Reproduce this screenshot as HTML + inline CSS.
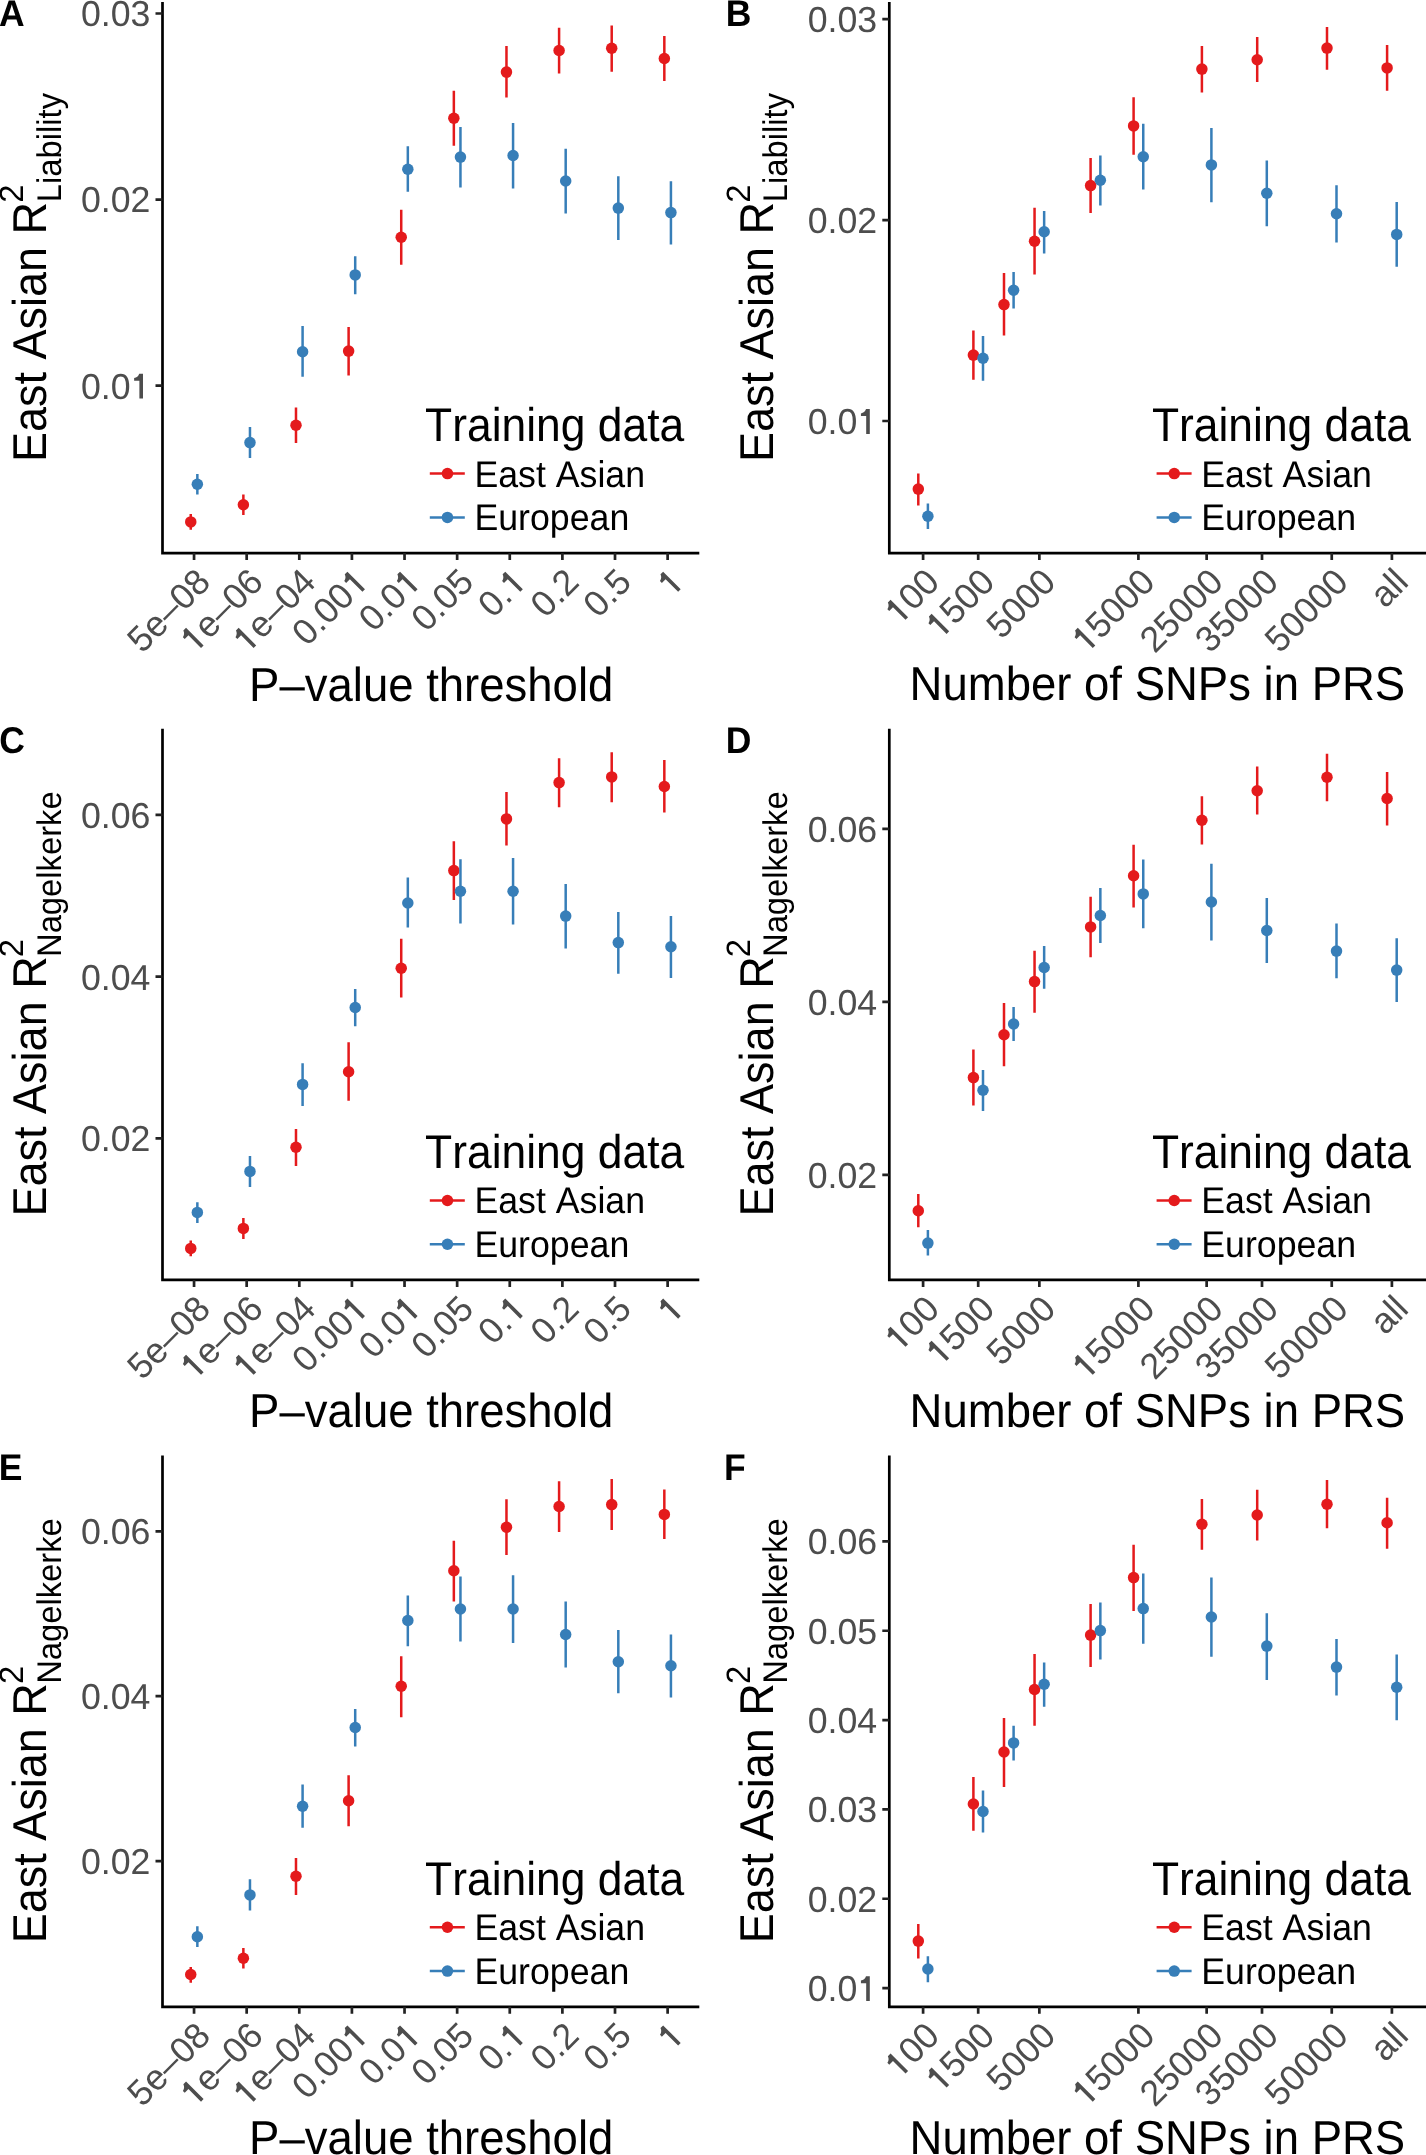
<!DOCTYPE html>
<html><head><meta charset="utf-8"><title>PRS figure</title>
<style>
html,body{margin:0;padding:0;background:#fff;}
body{width:1426px;height:2155px;overflow:hidden;}
svg{display:block;font-family:"Liberation Sans", sans-serif;will-change:transform;text-rendering:geometricPrecision;font-kerning:none;}
</style></head>
<body>
<svg width="1426" height="2155" viewBox="0 0 1426 2155">
<rect width="1426" height="2155" fill="#fff"/>
<g transform="translate(0 0)">
<text transform="translate(-0.88 25.8) scale(1 1.045)" font-size="35.5" fill="#000" font-weight="bold">A</text>
<text transform="translate(46 461.99) rotate(-90) scale(1 1.055)" font-size="45" fill="#000">East Asian R</text>
<text transform="translate(22.9 202.75) rotate(-90) scale(1 1.03)" font-size="32.75" fill="#000">2</text>
<text transform="translate(60.5 202.19) rotate(-90) scale(1 1.045)" font-size="32.75" fill="#000">Liability</text>
<path d="M162.5 1.9V554.45M161.15 553.1H699.3" stroke="#000" stroke-width="2.7" fill="none"/>
<g transform="translate(150.4 26.4) scale(1 1.01)" fill="#4D4D4D"><text text-anchor="end" font-size="35.7">0.03</text></g>
<g transform="translate(150.4 212.45) scale(1 1.01)" fill="#4D4D4D"><text text-anchor="end" font-size="35.7">0.02</text></g>
<g transform="translate(150.4 398.5) scale(1 1.01)" fill="#4D4D4D"><text text-anchor="end" font-size="35.7">0.0 </text><path d="M-7.41 0L-7.41 -24.56L-11.19 -24.56Q-12.54 -20.88 -16.26 -20.21L-16.26 -17.6L-11.01 -17.6L-11.01 0Z"/></g>
<g transform="translate(212.35 584) rotate(-45) scale(1 1.01)" fill="#4D4D4D"><text text-anchor="end" font-size="35.7">5e–08</text></g>
<g transform="translate(264.97 584) rotate(-45) scale(1 1.01)" fill="#4D4D4D"><text text-anchor="end" font-size="35.7"> e–06</text><path d="M-86.82 0L-86.82 -24.56L-90.61 -24.56Q-91.95 -20.88 -95.67 -20.21L-95.67 -17.6L-90.43 -17.6L-90.43 0Z"/></g>
<g transform="translate(317.59 584) rotate(-45) scale(1 1.01)" fill="#4D4D4D"><text text-anchor="end" font-size="35.7"> e–04</text><path d="M-86.82 0L-86.82 -24.56L-90.61 -24.56Q-91.95 -20.88 -95.67 -20.21L-95.67 -17.6L-90.43 -17.6L-90.43 0Z"/></g>
<g transform="translate(370.21 584) rotate(-45) scale(1 1.01)" fill="#4D4D4D"><text text-anchor="end" font-size="35.7">0.00 </text><path d="M-7.41 0L-7.41 -24.56L-11.19 -24.56Q-12.54 -20.88 -16.26 -20.21L-16.26 -17.6L-11.01 -17.6L-11.01 0Z"/></g>
<g transform="translate(422.83 584) rotate(-45) scale(1 1.01)" fill="#4D4D4D"><text text-anchor="end" font-size="35.7">0.0 </text><path d="M-7.41 0L-7.41 -24.56L-11.19 -24.56Q-12.54 -20.88 -16.26 -20.21L-16.26 -17.6L-11.01 -17.6L-11.01 0Z"/></g>
<g transform="translate(475.45 584) rotate(-45) scale(1 1.01)" fill="#4D4D4D"><text text-anchor="end" font-size="35.7">0.05</text></g>
<g transform="translate(528.07 584) rotate(-45) scale(1 1.01)" fill="#4D4D4D"><text text-anchor="end" font-size="35.7">0. </text><path d="M-7.41 0L-7.41 -24.56L-11.19 -24.56Q-12.54 -20.88 -16.26 -20.21L-16.26 -17.6L-11.01 -17.6L-11.01 0Z"/></g>
<g transform="translate(580.69 584) rotate(-45) scale(1 1.01)" fill="#4D4D4D"><text text-anchor="end" font-size="35.7">0.2</text></g>
<g transform="translate(633.31 584) rotate(-45) scale(1 1.01)" fill="#4D4D4D"><text text-anchor="end" font-size="35.7">0.5</text></g>
<g transform="translate(685.93 584) rotate(-45) scale(1 1.01)" fill="#4D4D4D"><text text-anchor="end" font-size="35.7"> </text><path d="M-7.41 0L-7.41 -24.56L-11.19 -24.56Q-12.54 -20.88 -16.26 -20.21L-16.26 -17.6L-11.01 -17.6L-11.01 0Z"/></g>
<path d="M155.5 13.5H162.5M155.5 199.55H162.5M155.5 385.6H162.5M194.05 553.1V560.1M246.67 553.1V560.1M299.29 553.1V560.1M351.91 553.1V560.1M404.53 553.1V560.1M457.15 553.1V560.1M509.77 553.1V560.1M562.39 553.1V560.1M615.01 553.1V560.1M667.63 553.1V560.1" stroke="#222" stroke-width="2.7" fill="none"/>
<text transform="translate(249.07 700.5) scale(1 1.05)" font-size="45.5" fill="#000">P–value threshold</text>
<text transform="translate(425.1 441.3) scale(1 1.065)" font-size="44.4" fill="#000">Training data</text>
<path d="M429.8 473.6H464.8" stroke="#E41A1C" stroke-width="2.5"/>
<circle cx="447.45" cy="473.6" r="5.75" fill="#E41A1C"/>
<text transform="translate(474.47 486.5) scale(1 1.04)" font-size="35.7" fill="#000">East Asian</text>
<path d="M429.8 517.4H464.8" stroke="#377EB8" stroke-width="2.5"/>
<circle cx="447.45" cy="517.4" r="5.75" fill="#377EB8"/>
<text transform="translate(474.47 530.3) scale(1 1.04)" font-size="35.7" fill="#000">European</text>
<g fill="#E41A1C"><path d="M190.75 514V529.8M243.37 494.6V515M295.99 407.6V443M348.61 327.1V375.6M401.23 209.7V264.7M453.85 90.7V145.7M506.47 46.1V97.6M559.09 27.7V73.6M611.71 25.5V71.7M664.33 36.1V80.9" stroke="#E41A1C" stroke-width="2.5"/><circle cx="190.75" cy="521.9" r="5.75"/><circle cx="243.37" cy="504.8" r="5.75"/><circle cx="295.99" cy="425.3" r="5.75"/><circle cx="348.61" cy="351.1" r="5.75"/><circle cx="401.23" cy="237.2" r="5.75"/><circle cx="453.85" cy="118.2" r="5.75"/><circle cx="506.47" cy="72.1" r="5.75"/><circle cx="559.09" cy="50.5" r="5.75"/><circle cx="611.71" cy="48.3" r="5.75"/><circle cx="664.33" cy="58.5" r="5.75"/></g>
<g fill="#377EB8"><path d="M197.35 474V494.4M249.97 426.9V458.1M302.59 326.1V376.8M355.21 256.2V294.3M407.83 146.3V191.8M460.45 127V187.5M513.07 122.9V188.5M565.69 148.8V213.6M618.31 176.3V239.9M670.93 181.2V244.5" stroke="#377EB8" stroke-width="2.5"/><circle cx="197.35" cy="484.2" r="5.75"/><circle cx="249.97" cy="442.6" r="5.75"/><circle cx="302.59" cy="351.7" r="5.75"/><circle cx="355.21" cy="274.9" r="5.75"/><circle cx="407.83" cy="169.3" r="5.75"/><circle cx="460.45" cy="157.1" r="5.75"/><circle cx="513.07" cy="155.5" r="5.75"/><circle cx="565.69" cy="181" r="5.75"/><circle cx="618.31" cy="208.1" r="5.75"/><circle cx="670.93" cy="212.6" r="5.75"/></g>
</g>
<g transform="translate(726.8 0)">
<text transform="translate(-1.07 25.8) scale(1 1.045)" font-size="35.5" fill="#000" font-weight="bold">B</text>
<text transform="translate(46 461.99) rotate(-90) scale(1 1.055)" font-size="45" fill="#000">East Asian R</text>
<text transform="translate(22.9 202.75) rotate(-90) scale(1 1.03)" font-size="32.75" fill="#000">2</text>
<text transform="translate(60.5 202.19) rotate(-90) scale(1 1.045)" font-size="32.75" fill="#000">Liability</text>
<path d="M162.5 1.9V554.45M161.15 553.1H699.3" stroke="#000" stroke-width="2.7" fill="none"/>
<g transform="translate(150.4 32.1) scale(1 1.01)" fill="#4D4D4D"><text text-anchor="end" font-size="35.7">0.03</text></g>
<g transform="translate(150.4 233) scale(1 1.01)" fill="#4D4D4D"><text text-anchor="end" font-size="35.7">0.02</text></g>
<g transform="translate(150.4 433.9) scale(1 1.01)" fill="#4D4D4D"><text text-anchor="end" font-size="35.7">0.0 </text><path d="M-7.41 0L-7.41 -24.56L-11.19 -24.56Q-12.54 -20.88 -16.26 -20.21L-16.26 -17.6L-11.01 -17.6L-11.01 0Z"/></g>
<g transform="translate(214.6 584) rotate(-45) scale(1 1.01)" fill="#4D4D4D"><text text-anchor="end" font-size="35.7"> 00</text><path d="M-47.12 0L-47.12 -24.56L-50.9 -24.56Q-52.25 -20.88 -55.97 -20.21L-55.97 -17.6L-50.72 -17.6L-50.72 0Z"/></g>
<g transform="translate(269.7 584) rotate(-45) scale(1 1.01)" fill="#4D4D4D"><text text-anchor="end" font-size="35.7"> 500</text><path d="M-66.97 0L-66.97 -24.56L-70.75 -24.56Q-72.1 -20.88 -75.82 -20.21L-75.82 -17.6L-70.58 -17.6L-70.58 0Z"/></g>
<g transform="translate(330.85 584) rotate(-45) scale(1 1.01)" fill="#4D4D4D"><text text-anchor="end" font-size="35.7">5000</text></g>
<g transform="translate(429.9 584) rotate(-45) scale(1 1.01)" fill="#4D4D4D"><text text-anchor="end" font-size="35.7"> 5000</text><path d="M-86.82 0L-86.82 -24.56L-90.61 -24.56Q-91.95 -20.88 -95.67 -20.21L-95.67 -17.6L-90.43 -17.6L-90.43 0Z"/></g>
<g transform="translate(498.15 584) rotate(-45) scale(1 1.01)" fill="#4D4D4D"><text text-anchor="end" font-size="35.7">25000</text></g>
<g transform="translate(553.5 584) rotate(-45) scale(1 1.01)" fill="#4D4D4D"><text text-anchor="end" font-size="35.7">35000</text></g>
<g transform="translate(623.25 584) rotate(-45) scale(1 1.01)" fill="#4D4D4D"><text text-anchor="end" font-size="35.7">50000</text></g>
<g transform="translate(683.4 584) rotate(-45) scale(1 1.01)" fill="#4D4D4D"><text text-anchor="end" font-size="35.7">all</text></g>
<path d="M155.5 19.2H162.5M155.5 220.1H162.5M155.5 421H162.5M196.3 553.1V560.1M251.4 553.1V560.1M312.55 553.1V560.1M411.6 553.1V560.1M479.85 553.1V560.1M535.2 553.1V560.1M604.95 553.1V560.1M665.1 553.1V560.1" stroke="#222" stroke-width="2.7" fill="none"/>
<text transform="translate(182.77 700.3) scale(1 1.05)" font-size="45.5" fill="#000">Number of SNPs in PRS</text>
<text transform="translate(425.1 441.3) scale(1 1.065)" font-size="44.4" fill="#000">Training data</text>
<path d="M429.8 473.6H464.8" stroke="#E41A1C" stroke-width="2.5"/>
<circle cx="447.45" cy="473.6" r="5.75" fill="#E41A1C"/>
<text transform="translate(474.47 486.5) scale(1 1.04)" font-size="35.7" fill="#000">East Asian</text>
<path d="M429.8 517.4H464.8" stroke="#377EB8" stroke-width="2.5"/>
<circle cx="447.45" cy="517.4" r="5.75" fill="#377EB8"/>
<text transform="translate(474.47 530.3) scale(1 1.04)" font-size="35.7" fill="#000">European</text>
<g fill="#E41A1C"><path d="M191.5 473.4V505.4M246.6 330.5V379.8M277.2 273V335.6M307.75 207.8V274.6M363.8 158.1V213.1M406.8 97.3V154.8M475.1 46.1V92.6M530.4 37.1V81.9M600.2 26.9V69.7M660.3 45.1V90.7" stroke="#E41A1C" stroke-width="2.5"/><circle cx="191.5" cy="489.1" r="5.75"/><circle cx="246.6" cy="355.1" r="5.75"/><circle cx="277.2" cy="304.6" r="5.75"/><circle cx="307.75" cy="241.2" r="5.75"/><circle cx="363.8" cy="185.6" r="5.75"/><circle cx="406.8" cy="125.9" r="5.75"/><circle cx="475.1" cy="69.1" r="5.75"/><circle cx="530.4" cy="59.7" r="5.75"/><circle cx="600.2" cy="48.1" r="5.75"/><circle cx="660.3" cy="67.9" r="5.75"/></g>
<g fill="#377EB8"><path d="M201.1 503.4V529M256.2 336V380.8M286.8 272V308.5M317.35 211.1V253.4M373.55 155.4V205.5M416.45 123.8V189.5M484.6 128V202.2M540 160.6V226.2M609.7 185.3V242.5M669.9 202V266.8" stroke="#377EB8" stroke-width="2.5"/><circle cx="201.1" cy="516.2" r="5.75"/><circle cx="256.2" cy="358.3" r="5.75"/><circle cx="286.8" cy="290.3" r="5.75"/><circle cx="317.35" cy="231.8" r="5.75"/><circle cx="373.55" cy="180.3" r="5.75"/><circle cx="416.45" cy="156.8" r="5.75"/><circle cx="484.6" cy="164.9" r="5.75"/><circle cx="540" cy="193.2" r="5.75"/><circle cx="609.7" cy="213.8" r="5.75"/><circle cx="669.9" cy="234.4" r="5.75"/></g>
</g>
<g transform="translate(0 726.85)">
<text transform="translate(-0.76 25.8) scale(1 1.045)" font-size="35.5" fill="#000" font-weight="bold">C</text>
<text transform="translate(46 489.59) rotate(-90) scale(1 1.055)" font-size="45" fill="#000">East Asian R</text>
<text transform="translate(22.9 230.3) rotate(-90) scale(1 1.03)" font-size="32.75" fill="#000">2</text>
<text transform="translate(60.5 230.14) rotate(-90) scale(1 1.045)" font-size="32.75" fill="#000">Nagelkerke</text>
<path d="M162.5 1.9V554.45M161.15 553.1H699.3" stroke="#000" stroke-width="2.7" fill="none"/>
<g transform="translate(150.4 100.9) scale(1 1.01)" fill="#4D4D4D"><text text-anchor="end" font-size="35.7">0.06</text></g>
<g transform="translate(150.4 262.7) scale(1 1.01)" fill="#4D4D4D"><text text-anchor="end" font-size="35.7">0.04</text></g>
<g transform="translate(150.4 424.5) scale(1 1.01)" fill="#4D4D4D"><text text-anchor="end" font-size="35.7">0.02</text></g>
<g transform="translate(212.35 584) rotate(-45) scale(1 1.01)" fill="#4D4D4D"><text text-anchor="end" font-size="35.7">5e–08</text></g>
<g transform="translate(264.97 584) rotate(-45) scale(1 1.01)" fill="#4D4D4D"><text text-anchor="end" font-size="35.7"> e–06</text><path d="M-86.82 0L-86.82 -24.56L-90.61 -24.56Q-91.95 -20.88 -95.67 -20.21L-95.67 -17.6L-90.43 -17.6L-90.43 0Z"/></g>
<g transform="translate(317.59 584) rotate(-45) scale(1 1.01)" fill="#4D4D4D"><text text-anchor="end" font-size="35.7"> e–04</text><path d="M-86.82 0L-86.82 -24.56L-90.61 -24.56Q-91.95 -20.88 -95.67 -20.21L-95.67 -17.6L-90.43 -17.6L-90.43 0Z"/></g>
<g transform="translate(370.21 584) rotate(-45) scale(1 1.01)" fill="#4D4D4D"><text text-anchor="end" font-size="35.7">0.00 </text><path d="M-7.41 0L-7.41 -24.56L-11.19 -24.56Q-12.54 -20.88 -16.26 -20.21L-16.26 -17.6L-11.01 -17.6L-11.01 0Z"/></g>
<g transform="translate(422.83 584) rotate(-45) scale(1 1.01)" fill="#4D4D4D"><text text-anchor="end" font-size="35.7">0.0 </text><path d="M-7.41 0L-7.41 -24.56L-11.19 -24.56Q-12.54 -20.88 -16.26 -20.21L-16.26 -17.6L-11.01 -17.6L-11.01 0Z"/></g>
<g transform="translate(475.45 584) rotate(-45) scale(1 1.01)" fill="#4D4D4D"><text text-anchor="end" font-size="35.7">0.05</text></g>
<g transform="translate(528.07 584) rotate(-45) scale(1 1.01)" fill="#4D4D4D"><text text-anchor="end" font-size="35.7">0. </text><path d="M-7.41 0L-7.41 -24.56L-11.19 -24.56Q-12.54 -20.88 -16.26 -20.21L-16.26 -17.6L-11.01 -17.6L-11.01 0Z"/></g>
<g transform="translate(580.69 584) rotate(-45) scale(1 1.01)" fill="#4D4D4D"><text text-anchor="end" font-size="35.7">0.2</text></g>
<g transform="translate(633.31 584) rotate(-45) scale(1 1.01)" fill="#4D4D4D"><text text-anchor="end" font-size="35.7">0.5</text></g>
<g transform="translate(685.93 584) rotate(-45) scale(1 1.01)" fill="#4D4D4D"><text text-anchor="end" font-size="35.7"> </text><path d="M-7.41 0L-7.41 -24.56L-11.19 -24.56Q-12.54 -20.88 -16.26 -20.21L-16.26 -17.6L-11.01 -17.6L-11.01 0Z"/></g>
<path d="M155.5 88H162.5M155.5 249.8H162.5M155.5 411.6H162.5M194.05 553.1V560.1M246.67 553.1V560.1M299.29 553.1V560.1M351.91 553.1V560.1M404.53 553.1V560.1M457.15 553.1V560.1M509.77 553.1V560.1M562.39 553.1V560.1M615.01 553.1V560.1M667.63 553.1V560.1" stroke="#222" stroke-width="2.7" fill="none"/>
<text transform="translate(249.07 700.5) scale(1 1.05)" font-size="45.5" fill="#000">P–value threshold</text>
<text transform="translate(425.1 441.3) scale(1 1.065)" font-size="44.4" fill="#000">Training data</text>
<path d="M429.8 473.6H464.8" stroke="#E41A1C" stroke-width="2.5"/>
<circle cx="447.45" cy="473.6" r="5.75" fill="#E41A1C"/>
<text transform="translate(474.47 486.5) scale(1 1.04)" font-size="35.7" fill="#000">East Asian</text>
<path d="M429.8 517.4H464.8" stroke="#377EB8" stroke-width="2.5"/>
<circle cx="447.45" cy="517.4" r="5.75" fill="#377EB8"/>
<text transform="translate(474.47 530.3) scale(1 1.04)" font-size="35.7" fill="#000">European</text>
<g fill="#E41A1C"><path d="M190.75 513.65V529.35M243.37 491.05V512.15M295.99 402.15V439.05M348.61 315.35V373.85M401.23 211.95V270.75M453.85 114.45V173.15M506.47 65.15V118.75M559.09 31.45V80.35M611.71 25.35V75.35M664.33 33.15V85.75" stroke="#E41A1C" stroke-width="2.5"/><circle cx="190.75" cy="521.55" r="5.75"/><circle cx="243.37" cy="501.55" r="5.75"/><circle cx="295.99" cy="420.45" r="5.75"/><circle cx="348.61" cy="344.85" r="5.75"/><circle cx="401.23" cy="241.35" r="5.75"/><circle cx="453.85" cy="143.75" r="5.75"/><circle cx="506.47" cy="92.05" r="5.75"/><circle cx="559.09" cy="55.75" r="5.75"/><circle cx="611.71" cy="50.05" r="5.75"/><circle cx="664.33" cy="59.65" r="5.75"/></g>
<g fill="#377EB8"><path d="M197.35 475.35V496.05M249.97 429.25V460.05M302.59 336.35V379.15M355.21 262.05V299.35M407.83 150.65V200.65M460.45 132.35V196.75M513.07 131.15V197.75M565.69 157.05V221.65M618.31 185.15V246.85M670.93 189.25V251.15" stroke="#377EB8" stroke-width="2.5"/><circle cx="197.35" cy="485.55" r="5.75"/><circle cx="249.97" cy="444.55" r="5.75"/><circle cx="302.59" cy="357.55" r="5.75"/><circle cx="355.21" cy="280.65" r="5.75"/><circle cx="407.83" cy="176.15" r="5.75"/><circle cx="460.45" cy="164.35" r="5.75"/><circle cx="513.07" cy="164.35" r="5.75"/><circle cx="565.69" cy="189.25" r="5.75"/><circle cx="618.31" cy="215.75" r="5.75"/><circle cx="670.93" cy="219.95" r="5.75"/></g>
</g>
<g transform="translate(726.8 726.85)">
<text transform="translate(-1.17 25.8) scale(1 1.045)" font-size="35.5" fill="#000" font-weight="bold">D</text>
<text transform="translate(46 489.59) rotate(-90) scale(1 1.055)" font-size="45" fill="#000">East Asian R</text>
<text transform="translate(22.9 230.3) rotate(-90) scale(1 1.03)" font-size="32.75" fill="#000">2</text>
<text transform="translate(60.5 230.14) rotate(-90) scale(1 1.045)" font-size="32.75" fill="#000">Nagelkerke</text>
<path d="M162.5 1.9V554.45M161.15 553.1H699.3" stroke="#000" stroke-width="2.7" fill="none"/>
<g transform="translate(150.4 114.85) scale(1 1.01)" fill="#4D4D4D"><text text-anchor="end" font-size="35.7">0.06</text></g>
<g transform="translate(150.4 287.85) scale(1 1.01)" fill="#4D4D4D"><text text-anchor="end" font-size="35.7">0.04</text></g>
<g transform="translate(150.4 460.85) scale(1 1.01)" fill="#4D4D4D"><text text-anchor="end" font-size="35.7">0.02</text></g>
<g transform="translate(214.6 584) rotate(-45) scale(1 1.01)" fill="#4D4D4D"><text text-anchor="end" font-size="35.7"> 00</text><path d="M-47.12 0L-47.12 -24.56L-50.9 -24.56Q-52.25 -20.88 -55.97 -20.21L-55.97 -17.6L-50.72 -17.6L-50.72 0Z"/></g>
<g transform="translate(269.7 584) rotate(-45) scale(1 1.01)" fill="#4D4D4D"><text text-anchor="end" font-size="35.7"> 500</text><path d="M-66.97 0L-66.97 -24.56L-70.75 -24.56Q-72.1 -20.88 -75.82 -20.21L-75.82 -17.6L-70.58 -17.6L-70.58 0Z"/></g>
<g transform="translate(330.85 584) rotate(-45) scale(1 1.01)" fill="#4D4D4D"><text text-anchor="end" font-size="35.7">5000</text></g>
<g transform="translate(429.9 584) rotate(-45) scale(1 1.01)" fill="#4D4D4D"><text text-anchor="end" font-size="35.7"> 5000</text><path d="M-86.82 0L-86.82 -24.56L-90.61 -24.56Q-91.95 -20.88 -95.67 -20.21L-95.67 -17.6L-90.43 -17.6L-90.43 0Z"/></g>
<g transform="translate(498.15 584) rotate(-45) scale(1 1.01)" fill="#4D4D4D"><text text-anchor="end" font-size="35.7">25000</text></g>
<g transform="translate(553.5 584) rotate(-45) scale(1 1.01)" fill="#4D4D4D"><text text-anchor="end" font-size="35.7">35000</text></g>
<g transform="translate(623.25 584) rotate(-45) scale(1 1.01)" fill="#4D4D4D"><text text-anchor="end" font-size="35.7">50000</text></g>
<g transform="translate(683.4 584) rotate(-45) scale(1 1.01)" fill="#4D4D4D"><text text-anchor="end" font-size="35.7">all</text></g>
<path d="M155.5 101.95H162.5M155.5 274.95H162.5M155.5 447.95H162.5M196.3 553.1V560.1M251.4 553.1V560.1M312.55 553.1V560.1M411.6 553.1V560.1M479.85 553.1V560.1M535.2 553.1V560.1M604.95 553.1V560.1M665.1 553.1V560.1" stroke="#222" stroke-width="2.7" fill="none"/>
<text transform="translate(182.77 700.3) scale(1 1.05)" font-size="45.5" fill="#000">Number of SNPs in PRS</text>
<text transform="translate(425.1 441.3) scale(1 1.065)" font-size="44.4" fill="#000">Training data</text>
<path d="M429.8 473.6H464.8" stroke="#E41A1C" stroke-width="2.5"/>
<circle cx="447.45" cy="473.6" r="5.75" fill="#E41A1C"/>
<text transform="translate(474.47 486.5) scale(1 1.04)" font-size="35.7" fill="#000">East Asian</text>
<path d="M429.8 517.4H464.8" stroke="#377EB8" stroke-width="2.5"/>
<circle cx="447.45" cy="517.4" r="5.75" fill="#377EB8"/>
<text transform="translate(474.47 530.3) scale(1 1.04)" font-size="35.7" fill="#000">European</text>
<g fill="#E41A1C"><path d="M191.5 467.15V500.35M246.6 322.65V378.75M277.2 276.15V339.35M307.75 223.95V285.85M363.8 169.95V230.45M406.8 117.95V180.75M475.1 69.45V117.55M530.4 39.65V87.75M600.2 26.85V74.45M660.3 45.15V98.55" stroke="#E41A1C" stroke-width="2.5"/><circle cx="191.5" cy="483.85" r="5.75"/><circle cx="246.6" cy="350.75" r="5.75"/><circle cx="277.2" cy="307.95" r="5.75"/><circle cx="307.75" cy="254.75" r="5.75"/><circle cx="363.8" cy="200.05" r="5.75"/><circle cx="406.8" cy="148.95" r="5.75"/><circle cx="475.1" cy="93.45" r="5.75"/><circle cx="530.4" cy="63.85" r="5.75"/><circle cx="600.2" cy="50.45" r="5.75"/><circle cx="660.3" cy="71.65" r="5.75"/></g>
<g fill="#377EB8"><path d="M201.1 503.25V528.75M256.2 343.25V384.05M286.8 280.15V314.15M317.35 219.05V261.85M373.55 161.15V216.15M416.45 132.65V201.35M484.6 136.95V213.75M540 171.25V236.05M609.7 196.75V251.35M669.9 211.45V275.25" stroke="#377EB8" stroke-width="2.5"/><circle cx="201.1" cy="516.25" r="5.75"/><circle cx="256.2" cy="363.45" r="5.75"/><circle cx="286.8" cy="297.15" r="5.75"/><circle cx="317.35" cy="240.65" r="5.75"/><circle cx="373.55" cy="188.65" r="5.75"/><circle cx="416.45" cy="167.05" r="5.75"/><circle cx="484.6" cy="175.15" r="5.75"/><circle cx="540" cy="203.65" r="5.75"/><circle cx="609.7" cy="224.25" r="5.75"/><circle cx="669.9" cy="243.25" r="5.75"/></g>
</g>
<g transform="translate(0 1453.7)">
<text transform="translate(-1.37 25.8) scale(1 1.045)" font-size="35.5" fill="#000" font-weight="bold">E</text>
<text transform="translate(46 489.59) rotate(-90) scale(1 1.055)" font-size="45" fill="#000">East Asian R</text>
<text transform="translate(22.9 230.3) rotate(-90) scale(1 1.03)" font-size="32.75" fill="#000">2</text>
<text transform="translate(60.5 230.14) rotate(-90) scale(1 1.045)" font-size="32.75" fill="#000">Nagelkerke</text>
<path d="M162.5 1.9V554.45M161.15 553.1H699.3" stroke="#000" stroke-width="2.7" fill="none"/>
<g transform="translate(150.4 90.5) scale(1 1.01)" fill="#4D4D4D"><text text-anchor="end" font-size="35.7">0.06</text></g>
<g transform="translate(150.4 255.4) scale(1 1.01)" fill="#4D4D4D"><text text-anchor="end" font-size="35.7">0.04</text></g>
<g transform="translate(150.4 420.3) scale(1 1.01)" fill="#4D4D4D"><text text-anchor="end" font-size="35.7">0.02</text></g>
<g transform="translate(212.35 584) rotate(-45) scale(1 1.01)" fill="#4D4D4D"><text text-anchor="end" font-size="35.7">5e–08</text></g>
<g transform="translate(264.97 584) rotate(-45) scale(1 1.01)" fill="#4D4D4D"><text text-anchor="end" font-size="35.7"> e–06</text><path d="M-86.82 0L-86.82 -24.56L-90.61 -24.56Q-91.95 -20.88 -95.67 -20.21L-95.67 -17.6L-90.43 -17.6L-90.43 0Z"/></g>
<g transform="translate(317.59 584) rotate(-45) scale(1 1.01)" fill="#4D4D4D"><text text-anchor="end" font-size="35.7"> e–04</text><path d="M-86.82 0L-86.82 -24.56L-90.61 -24.56Q-91.95 -20.88 -95.67 -20.21L-95.67 -17.6L-90.43 -17.6L-90.43 0Z"/></g>
<g transform="translate(370.21 584) rotate(-45) scale(1 1.01)" fill="#4D4D4D"><text text-anchor="end" font-size="35.7">0.00 </text><path d="M-7.41 0L-7.41 -24.56L-11.19 -24.56Q-12.54 -20.88 -16.26 -20.21L-16.26 -17.6L-11.01 -17.6L-11.01 0Z"/></g>
<g transform="translate(422.83 584) rotate(-45) scale(1 1.01)" fill="#4D4D4D"><text text-anchor="end" font-size="35.7">0.0 </text><path d="M-7.41 0L-7.41 -24.56L-11.19 -24.56Q-12.54 -20.88 -16.26 -20.21L-16.26 -17.6L-11.01 -17.6L-11.01 0Z"/></g>
<g transform="translate(475.45 584) rotate(-45) scale(1 1.01)" fill="#4D4D4D"><text text-anchor="end" font-size="35.7">0.05</text></g>
<g transform="translate(528.07 584) rotate(-45) scale(1 1.01)" fill="#4D4D4D"><text text-anchor="end" font-size="35.7">0. </text><path d="M-7.41 0L-7.41 -24.56L-11.19 -24.56Q-12.54 -20.88 -16.26 -20.21L-16.26 -17.6L-11.01 -17.6L-11.01 0Z"/></g>
<g transform="translate(580.69 584) rotate(-45) scale(1 1.01)" fill="#4D4D4D"><text text-anchor="end" font-size="35.7">0.2</text></g>
<g transform="translate(633.31 584) rotate(-45) scale(1 1.01)" fill="#4D4D4D"><text text-anchor="end" font-size="35.7">0.5</text></g>
<g transform="translate(685.93 584) rotate(-45) scale(1 1.01)" fill="#4D4D4D"><text text-anchor="end" font-size="35.7"> </text><path d="M-7.41 0L-7.41 -24.56L-11.19 -24.56Q-12.54 -20.88 -16.26 -20.21L-16.26 -17.6L-11.01 -17.6L-11.01 0Z"/></g>
<path d="M155.5 77.6H162.5M155.5 242.5H162.5M155.5 407.4H162.5M194.05 553.1V560.1M246.67 553.1V560.1M299.29 553.1V560.1M351.91 553.1V560.1M404.53 553.1V560.1M457.15 553.1V560.1M509.77 553.1V560.1M562.39 553.1V560.1M615.01 553.1V560.1M667.63 553.1V560.1" stroke="#222" stroke-width="2.7" fill="none"/>
<text transform="translate(249.07 700.5) scale(1 1.05)" font-size="45.5" fill="#000">P–value threshold</text>
<text transform="translate(425.1 441.3) scale(1 1.065)" font-size="44.4" fill="#000">Training data</text>
<path d="M429.8 473.6H464.8" stroke="#E41A1C" stroke-width="2.5"/>
<circle cx="447.45" cy="473.6" r="5.75" fill="#E41A1C"/>
<text transform="translate(474.47 486.5) scale(1 1.04)" font-size="35.7" fill="#000">East Asian</text>
<path d="M429.8 517.4H464.8" stroke="#377EB8" stroke-width="2.5"/>
<circle cx="447.45" cy="517.4" r="5.75" fill="#377EB8"/>
<text transform="translate(474.47 530.3) scale(1 1.04)" font-size="35.7" fill="#000">European</text>
<g fill="#E41A1C"><path d="M190.75 513.3V529M243.37 494.3V514.9M295.99 404.3V441.2M348.61 321.5V372.5M401.23 202.5V263.6M453.85 87.1V147.7M506.47 45.6V101.3M559.09 27.5V78.2M611.71 25.3V76.4M664.33 35.8V85.2" stroke="#E41A1C" stroke-width="2.5"/><circle cx="190.75" cy="520.8" r="5.75"/><circle cx="243.37" cy="504.5" r="5.75"/><circle cx="295.99" cy="422.6" r="5.75"/><circle cx="348.61" cy="347" r="5.75"/><circle cx="401.23" cy="232.6" r="5.75"/><circle cx="453.85" cy="117.1" r="5.75"/><circle cx="506.47" cy="73.5" r="5.75"/><circle cx="559.09" cy="52.8" r="5.75"/><circle cx="611.71" cy="50.9" r="5.75"/><circle cx="664.33" cy="60.7" r="5.75"/></g>
<g fill="#377EB8"><path d="M197.35 472.6V493.3M249.97 425.5V456.9M302.59 330.9V374.1M355.21 255.2V292.9M407.83 141.7V192.5M460.45 122.8V187.9M513.07 121.5V189.3M565.69 147.9V213.8M618.31 176.3V239.6M670.93 180.7V243.9" stroke="#377EB8" stroke-width="2.5"/><circle cx="197.35" cy="483.1" r="5.75"/><circle cx="249.97" cy="441.2" r="5.75"/><circle cx="302.59" cy="352.5" r="5.75"/><circle cx="355.21" cy="273.8" r="5.75"/><circle cx="407.83" cy="166.8" r="5.75"/><circle cx="460.45" cy="155.3" r="5.75"/><circle cx="513.07" cy="155.3" r="5.75"/><circle cx="565.69" cy="180.8" r="5.75"/><circle cx="618.31" cy="208" r="5.75"/><circle cx="670.93" cy="212.1" r="5.75"/></g>
</g>
<g transform="translate(726.8 1453.7)">
<text transform="translate(-2.87 25.8) scale(1 1.045)" font-size="35.5" fill="#000" font-weight="bold">F</text>
<text transform="translate(46 489.59) rotate(-90) scale(1 1.055)" font-size="45" fill="#000">East Asian R</text>
<text transform="translate(22.9 230.3) rotate(-90) scale(1 1.03)" font-size="32.75" fill="#000">2</text>
<text transform="translate(60.5 230.14) rotate(-90) scale(1 1.045)" font-size="32.75" fill="#000">Nagelkerke</text>
<path d="M162.5 1.9V554.45M161.15 553.1H699.3" stroke="#000" stroke-width="2.7" fill="none"/>
<g transform="translate(150.4 100.6) scale(1 1.01)" fill="#4D4D4D"><text text-anchor="end" font-size="35.7">0.06</text></g>
<g transform="translate(150.4 189.94) scale(1 1.01)" fill="#4D4D4D"><text text-anchor="end" font-size="35.7">0.05</text></g>
<g transform="translate(150.4 279.28) scale(1 1.01)" fill="#4D4D4D"><text text-anchor="end" font-size="35.7">0.04</text></g>
<g transform="translate(150.4 368.62) scale(1 1.01)" fill="#4D4D4D"><text text-anchor="end" font-size="35.7">0.03</text></g>
<g transform="translate(150.4 457.96) scale(1 1.01)" fill="#4D4D4D"><text text-anchor="end" font-size="35.7">0.02</text></g>
<g transform="translate(150.4 547.3) scale(1 1.01)" fill="#4D4D4D"><text text-anchor="end" font-size="35.7">0.0 </text><path d="M-7.41 0L-7.41 -24.56L-11.19 -24.56Q-12.54 -20.88 -16.26 -20.21L-16.26 -17.6L-11.01 -17.6L-11.01 0Z"/></g>
<g transform="translate(214.6 584) rotate(-45) scale(1 1.01)" fill="#4D4D4D"><text text-anchor="end" font-size="35.7"> 00</text><path d="M-47.12 0L-47.12 -24.56L-50.9 -24.56Q-52.25 -20.88 -55.97 -20.21L-55.97 -17.6L-50.72 -17.6L-50.72 0Z"/></g>
<g transform="translate(269.7 584) rotate(-45) scale(1 1.01)" fill="#4D4D4D"><text text-anchor="end" font-size="35.7"> 500</text><path d="M-66.97 0L-66.97 -24.56L-70.75 -24.56Q-72.1 -20.88 -75.82 -20.21L-75.82 -17.6L-70.58 -17.6L-70.58 0Z"/></g>
<g transform="translate(330.85 584) rotate(-45) scale(1 1.01)" fill="#4D4D4D"><text text-anchor="end" font-size="35.7">5000</text></g>
<g transform="translate(429.9 584) rotate(-45) scale(1 1.01)" fill="#4D4D4D"><text text-anchor="end" font-size="35.7"> 5000</text><path d="M-86.82 0L-86.82 -24.56L-90.61 -24.56Q-91.95 -20.88 -95.67 -20.21L-95.67 -17.6L-90.43 -17.6L-90.43 0Z"/></g>
<g transform="translate(498.15 584) rotate(-45) scale(1 1.01)" fill="#4D4D4D"><text text-anchor="end" font-size="35.7">25000</text></g>
<g transform="translate(553.5 584) rotate(-45) scale(1 1.01)" fill="#4D4D4D"><text text-anchor="end" font-size="35.7">35000</text></g>
<g transform="translate(623.25 584) rotate(-45) scale(1 1.01)" fill="#4D4D4D"><text text-anchor="end" font-size="35.7">50000</text></g>
<g transform="translate(683.4 584) rotate(-45) scale(1 1.01)" fill="#4D4D4D"><text text-anchor="end" font-size="35.7">all</text></g>
<path d="M155.5 87.7H162.5M155.5 177.04H162.5M155.5 266.38H162.5M155.5 355.72H162.5M155.5 445.06H162.5M155.5 534.4H162.5M196.3 553.1V560.1M251.4 553.1V560.1M312.55 553.1V560.1M411.6 553.1V560.1M479.85 553.1V560.1M535.2 553.1V560.1M604.95 553.1V560.1M665.1 553.1V560.1" stroke="#222" stroke-width="2.7" fill="none"/>
<text transform="translate(182.77 700.3) scale(1 1.05)" font-size="45.5" fill="#000">Number of SNPs in PRS</text>
<text transform="translate(425.1 441.3) scale(1 1.065)" font-size="44.4" fill="#000">Training data</text>
<path d="M429.8 473.6H464.8" stroke="#E41A1C" stroke-width="2.5"/>
<circle cx="447.45" cy="473.6" r="5.75" fill="#E41A1C"/>
<text transform="translate(474.47 486.5) scale(1 1.04)" font-size="35.7" fill="#000">East Asian</text>
<path d="M429.8 517.4H464.8" stroke="#377EB8" stroke-width="2.5"/>
<circle cx="447.45" cy="517.4" r="5.75" fill="#377EB8"/>
<text transform="translate(474.47 530.3) scale(1 1.04)" font-size="35.7" fill="#000">European</text>
<g fill="#E41A1C"><path d="M191.5 470.3V504.7M246.6 323.4V377M277.2 264.2V333.2M307.75 200.4V272.1M363.8 150.4V213.2M406.8 91.1V157.2M475.1 45.2V96.1M530.4 36.1V86.8M600.2 26.3V74.6M660.3 44V95" stroke="#E41A1C" stroke-width="2.5"/><circle cx="191.5" cy="487.4" r="5.75"/><circle cx="246.6" cy="350.3" r="5.75"/><circle cx="277.2" cy="298.3" r="5.75"/><circle cx="307.75" cy="235.8" r="5.75"/><circle cx="363.8" cy="181.4" r="5.75"/><circle cx="406.8" cy="123.9" r="5.75"/><circle cx="475.1" cy="70.6" r="5.75"/><circle cx="530.4" cy="61.3" r="5.75"/><circle cx="600.2" cy="50.5" r="5.75"/><circle cx="660.3" cy="69.1" r="5.75"/></g>
<g fill="#377EB8"><path d="M201.1 502.5V528.6M256.2 336.8V378.8M286.8 272.1V306.8M317.35 208.9V253.1M373.55 148.8V205.7M416.45 119.9V190M484.6 123.7V203M540 159.5V226.2M609.7 185.4V241.9M669.9 200.7V266.5" stroke="#377EB8" stroke-width="2.5"/><circle cx="201.1" cy="515.3" r="5.75"/><circle cx="256.2" cy="357.8" r="5.75"/><circle cx="286.8" cy="289.2" r="5.75"/><circle cx="317.35" cy="230.5" r="5.75"/><circle cx="373.55" cy="176.9" r="5.75"/><circle cx="416.45" cy="154.9" r="5.75"/><circle cx="484.6" cy="163.3" r="5.75"/><circle cx="540" cy="192.4" r="5.75"/><circle cx="609.7" cy="213.4" r="5.75"/><circle cx="669.9" cy="233.5" r="5.75"/></g>
</g>
</svg>
</body></html>
